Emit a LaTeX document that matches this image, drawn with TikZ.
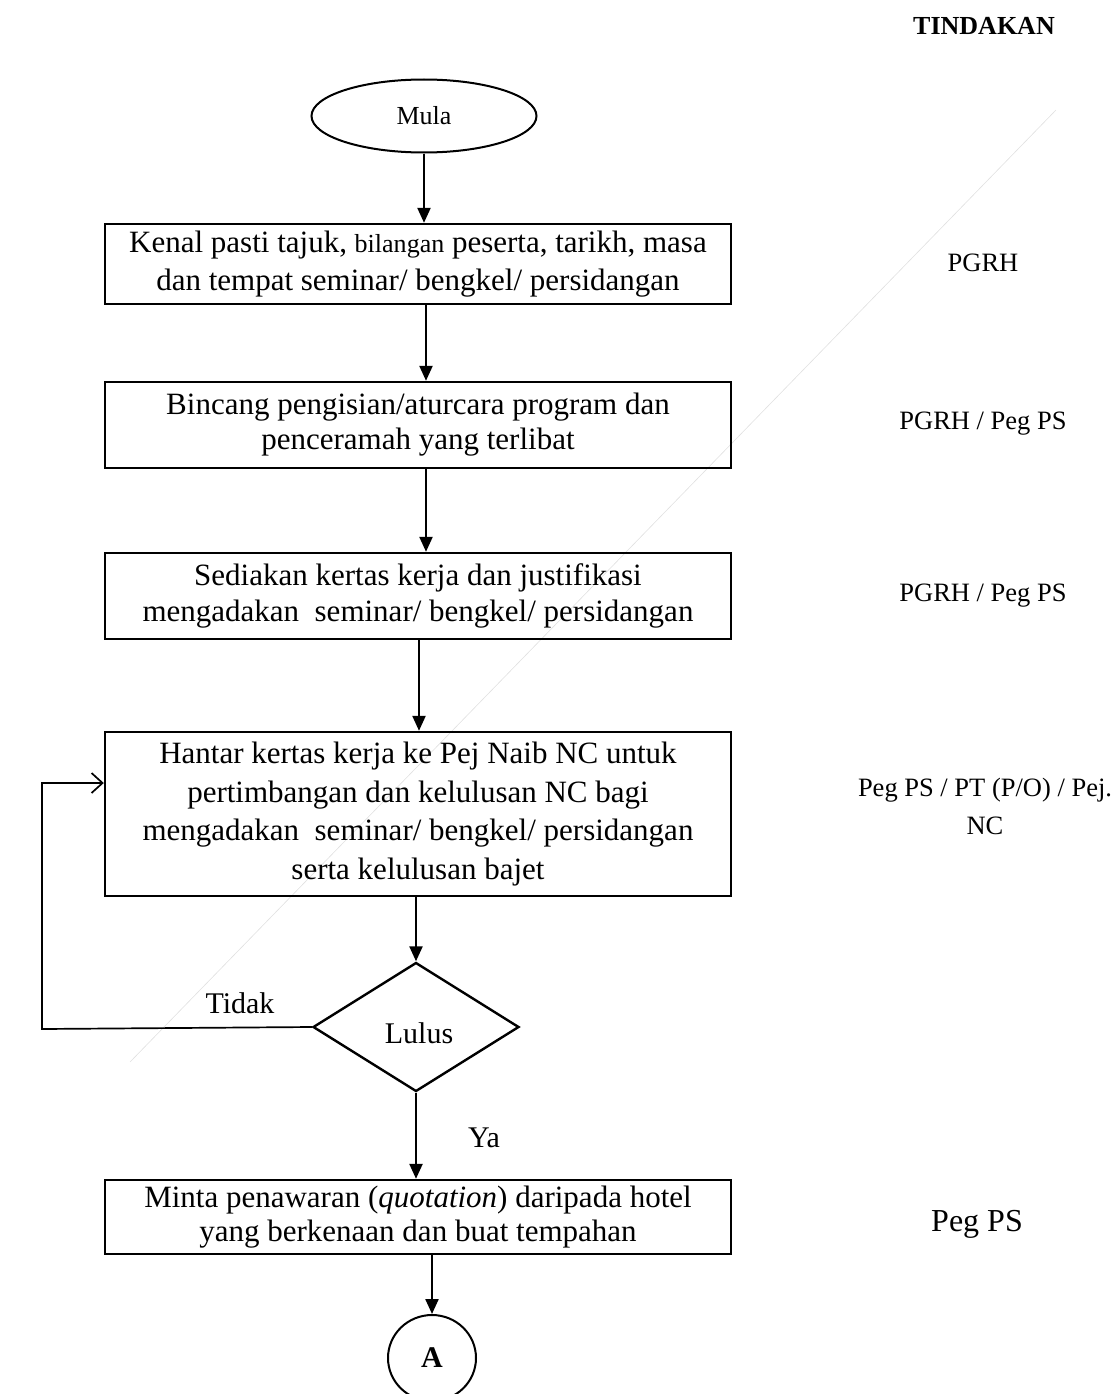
\documentclass[tikz,border=0pt]{standalone}
\usepackage{fontspec}
\setmainfont{Liberation Serif}
\usetikzlibrary{shapes.geometric,arrows.meta}
\tikzset{
  stepbox/.style={draw,line width=2.4pt,minimum width=626pt,inner sep=0pt,align=center},
  flow/.style={line width=2.3pt,-{Triangle[length=15pt,width=13pt]}},
  fbline/.style={line width=1.7pt,-{Straight Barb[length=11pt,width=20pt,line width=1.7pt]}},
  whotext/.style={font=\fontsize{26.5}{38}\selectfont,align=center,inner sep=0pt},
  lbl/.style={font=\fontsize{30}{34}\selectfont,inner sep=0pt}
}
\begin{document}
\begin{tikzpicture}[x=1pt,y=-1pt]
\useasboundingbox (0,0) rectangle (1118,1394);
% faint scanner artifact
\draw[black!12,line width=0.6pt] (1056,110) -- (130,1062);

\node[whotext,font=\fontsize{26}{30}\selectfont\bfseries] (tind) at (984,26) {TINDAKAN};

\node[draw,ellipse,line width=2pt,minimum width=225pt,minimum height=73pt,inner sep=0pt,font=\fontsize{26}{30}\selectfont] (mula) at (424,116) {Mula};

\node[stepbox,minimum height=80pt,font=\fontsize{31}{38}\selectfont] (b1) at (418,264) {Kenal pasti tajuk, {\fontsize{26}{30}\selectfont bilangan} peserta, tarikh, masa\\dan tempat seminar/ bengkel/ persidangan};
\node[stepbox,minimum height=86pt,font=\fontsize{31}{35}\selectfont] (b2) at (418,425) {Bincang pengisian/aturcara program dan\\penceramah yang terlibat};
\node[stepbox,minimum height=86pt,font=\fontsize{31}{35.5}\selectfont] (b3) at (418,596) {Sediakan kertas kerja dan justifikasi\\mengadakan\ \ seminar/ bengkel/ persidangan};
\node[stepbox,minimum height=164pt,font=\fontsize{31}{38.5}\selectfont] (b4) at (418,814) {Hantar kertas kerja ke Pej Naib NC untuk\\pertimbangan dan kelulusan NC bagi\\mengadakan\ \ seminar/ bengkel/ persidangan\\serta kelulusan bajet};
\node[draw,diamond,line width=2.4pt,minimum width=206pt,minimum height=129pt,inner sep=0pt] (d) at (416,1027) {};
\node[lbl] (lulus) at (419,1033) {Lulus};
\node[stepbox,minimum height=74pt,font=\fontsize{31}{34.5}\selectfont] (b5) at (418,1217) {Minta penawaran (\textit{quotation}) daripada hotel\\yang berkenaan dan buat tempahan};
\node[draw,ellipse,line width=2pt,minimum width=88pt,minimum height=86pt,inner sep=0pt,font=\fontsize{30}{34}\selectfont\bfseries] (conA) at (432,1358) {A};

\node[whotext] (w1) at (983,263) {PGRH};
\node[whotext] (w2) at (983,424) {PGRH / Peg PS};
\node[whotext] (w3) at (983,596) {PGRH / Peg PS};
\node[whotext] (w4) at (985,806) {Peg PS / PT (P/O) / Pej.\\NC};
\node[whotext,font=\fontsize{32}{36}\selectfont] (w5) at (977,1224) {Peg PS};

\node[lbl] (tidak) at (240,1003) {Tidak};
\node[lbl] (ya) at (484,1138) {Ya};

\coordinate (fbb) at (42,1029);
\coordinate (fbt) at (42,783);

\draw[flow] (mula.south) -- (mula.south |- b1.north);
\draw[flow] ([xshift=8pt]b1.south) -- ([xshift=8pt]b2.north);
\draw[flow] ([xshift=8pt]b2.south) -- ([xshift=8pt]b3.north);
\draw[flow] ([xshift=1pt]b3.south) -- ([xshift=1pt]b4.north);
\draw[flow] (d.north |- b4.south) -- (d.north);
\draw[flow] (d.south) -- (d.south |- b5.north);
\draw[flow] (conA.north |- b5.south) -- (conA.north);
\draw[fbline] (d.west) -- (fbb) -- (fbt) -- (fbt -| b4.west);
\end{tikzpicture}
\end{document}
